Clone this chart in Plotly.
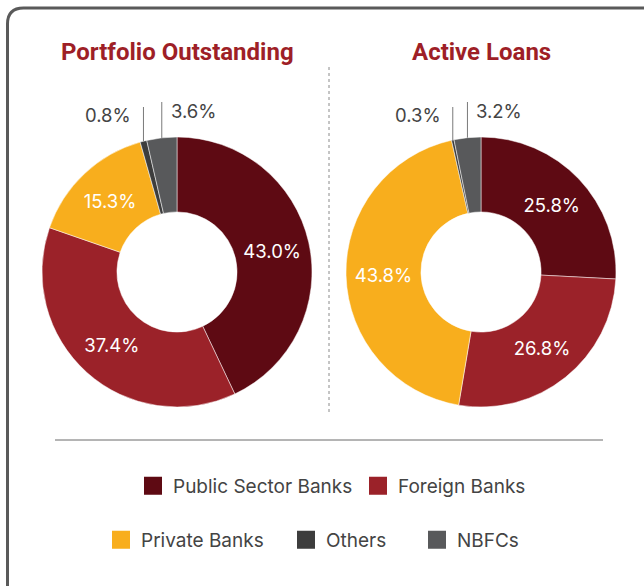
import math
import plotly.graph_objects as go

# ---------------- data ----------------
categories = ["Public Sector Banks", "Foreign Banks", "Private Banks", "Others", "NBFCs"]
portfolio_outstanding = [43.0, 37.4, 15.3, 0.8, 3.6]
active_loans = [25.8, 26.8, 43.8, 0.3, 3.2]
chart_titles = ["Portfolio Outstanding", "Active Loans"]
colors = ["#5E0A13", "#9B2229", "#F8AE1D", "#3D3D3D", "#58595B"]

# ---------------- layout constants (pixels) ----------------
W, H = 644, 586
R = 135          # outer radius in px
HOLE = 0.445
CY = 272
CENTERS = [177, 481]
FONT = "Inter, Roboto, sans-serif"
TXT = "#444444"
# legend entry anchors (symbol centre x, row centre y)
LEGEND_POS = [(153, 486), (378, 486), (121, 540), (306, 540), (437, 540)]


def px(x):
    return x / W


def py(y):
    return 1 - y / H


fig = go.Figure()
shapes = []
annotations = []

for i, (vals, title) in enumerate(zip([portfolio_outstanding, active_loans], chart_titles)):
    cx = CENTERS[i]
    texts = [f"{v:.1f}%" if v >= 5 else "" for v in vals]
    fig.add_trace(go.Pie(
        labels=categories,
        values=vals,
        text=texts,
        textinfo="text",
        textposition="inside",
        insidetextorientation="horizontal",
        textfont=dict(family=FONT, size=18.5, color="white"),
        hole=HOLE,
        sort=False,
        direction="clockwise",
        rotation=0,
        marker=dict(colors=colors, line=dict(color="white", width=0.5)),
        domain=dict(x=[px(cx - R), px(cx + R)], y=[py(CY + R), py(CY - R)]),
        showlegend=False,
        hoverinfo="label+value",
    ))
    annotations.append(dict(
        text=f"<b>{title}</b>", x=px(cx), y=py(52), xref="paper", yref="paper",
        showarrow=False, xanchor="center", yanchor="middle",
        font=dict(family="Roboto, sans-serif", size=24, color="#9E1F27"),
    ))

    # small-slice labels with vertical leader lines, from slice angles
    total = sum(vals)
    cum = 0.0
    small_idx = 0
    for v in vals:
        if v < 5:
            a = (cum + v / 2) / total * 2 * math.pi
            lx = cx + R * math.sin(a)
            ly_edge = CY - R * math.cos(a)
            left_side = small_idx == 0
            top = 107 if left_side else 102
            shapes.append(dict(type="line", xref="paper", yref="paper",
                               x0=px(lx), x1=px(lx), y0=py(ly_edge), y1=py(top),
                               line=dict(color="#7a7a7a", width=1)))
            annotations.append(dict(
                text=f"{v:.1f}%", xref="paper", yref="paper",
                x=px(lx - 10) if left_side else px(lx + 7),
                y=py(115) if left_side else py(111),
                xanchor="right" if left_side else "left", yanchor="middle",
                showarrow=False, font=dict(family=FONT, size=18.5, color=TXT),
            ))
            small_idx += 1
        cum += v

# legend: one marker-only trace per category, each in its own legend box
legend_font = dict(family=FONT, size=19, color=TXT)
legend_layouts = {}
for j, (cat, col) in enumerate(zip(categories, colors)):
    key = "legend" if j == 0 else f"legend{j + 1}"
    fig.add_trace(go.Scatter(
        x=[None], y=[None], mode="markers", name=cat,
        marker=dict(symbol="square", size=16, color=col, line=dict(color=col, width=2)),
        legend=key, showlegend=True, hoverinfo="skip",
    ))
    sx, sy = LEGEND_POS[j]
    legend_layouts[key] = dict(orientation="h", x=px(sx - 20), y=py(sy),
                               xanchor="left", yanchor="middle",
                               font=legend_font, itemsizing="trace",
                               bgcolor="rgba(0,0,0,0)", borderwidth=0)

# frame, dividers
shapes.append(dict(type="path", xref="paper", yref="paper",
                   path=f"M {px(7.5)},{py(620)} L {px(7.5)},{py(24)} "
                        f"Q {px(7.5)},{py(8)} {px(23.5)},{py(8)} L {px(700)},{py(8)}",
                   line=dict(color="#5a5a5a", width=3)))
shapes.append(dict(type="line", xref="paper", yref="paper",
                   x0=px(329), x1=px(329), y0=py(67), y1=py(414),
                   line=dict(color="#8a8a8a", width=1, dash="dot")))
shapes.append(dict(type="line", xref="paper", yref="paper",
                   x0=px(55), x1=px(603), y0=py(440), y1=py(440),
                   line=dict(color="#6a6a6a", width=1)))

fig.update_layout(
    width=W, height=H,
    margin=dict(l=0, r=0, t=0, b=0),
    paper_bgcolor="white", plot_bgcolor="white",
    xaxis=dict(visible=False), yaxis=dict(visible=False),
    shapes=shapes, annotations=annotations,
    **legend_layouts,
)

fig.write_html("out.html", config={"displayModeBar": False},
               post_script="document.body.style.margin='0';document.body.style.overflow='hidden';")
